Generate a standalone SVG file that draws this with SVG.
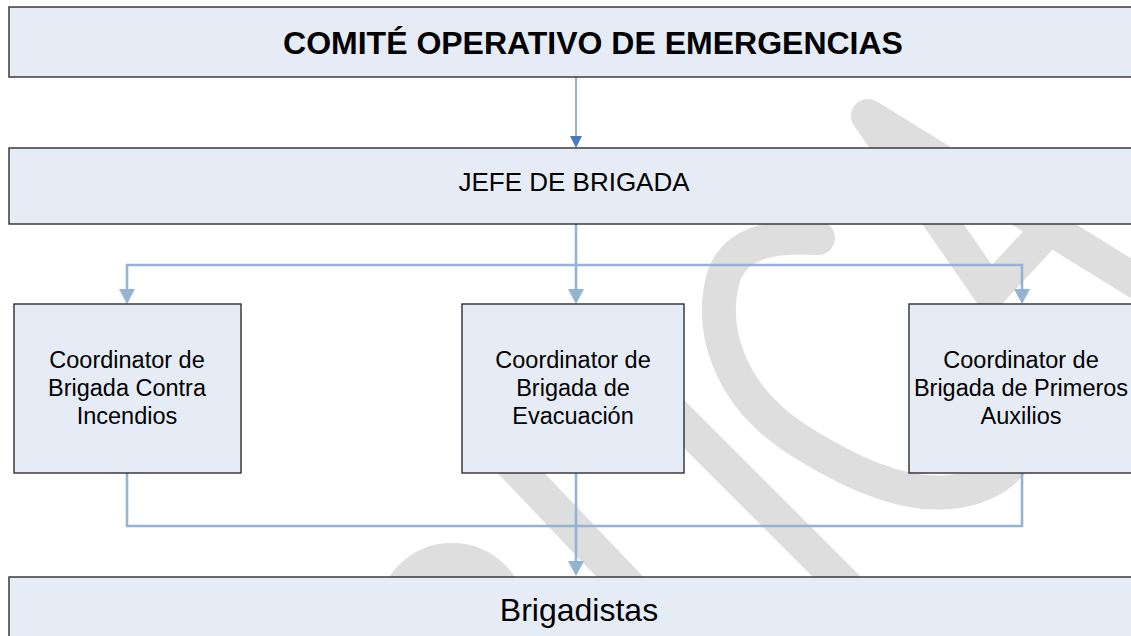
<svg xmlns="http://www.w3.org/2000/svg" width="1131" height="636" viewBox="0 0 1131 636">
<defs>
<style>
.box{fill:#e6ecf6;stroke:#2e2e2e;stroke-width:1.4}
.t{font-family:"Liberation Sans",Arial,sans-serif;fill:#000;text-anchor:middle}
.wm{fill:none;stroke:#dedede;stroke-width:34;stroke-linecap:round;stroke-linejoin:round}
.lc{fill:none;stroke:#95b3d7;stroke-width:2.6}
.dc{fill:none;stroke:#4a78c0;stroke-width:1.2}
</style>
<marker id="al" markerUnits="userSpaceOnUse" markerWidth="15" markerHeight="16" viewBox="0 0 15 16" refX="0" refY="8" orient="auto"><path d="M0,0 L15,8 L0,16 z" fill="#95b3d7"/></marker>
<marker id="ad" markerUnits="userSpaceOnUse" markerWidth="12" markerHeight="12" viewBox="0 0 12 12" refX="0" refY="6" orient="auto"><path d="M0,0 L12,6 L0,12 z" fill="#4a78c0"/></marker>
</defs>
<rect width="1131" height="636" fill="#fff"/>
<g id="watermark">
<path class="wm" d="M990,292 L868,116 L1150,290"/>
<path class="wm" d="M990,292 L1055,222"/>
<path class="wm" d="M818,238 C775,236 738,240 724,275 C708,330 730,395 795,438 C845,470 900,497 950,492 C990,488 1010,470 1030,440"/>
<path class="wm" d="M480,430 L680,640" stroke-width="31"/>
<path class="wm" d="M640,380 L900,640" stroke-width="31"/>
<circle class="wm" cx="452" cy="618" r="58"/>
</g>
<g id="connectors">
<path class="dc" d="M576,77 V136" marker-end="url(#ad)"/>
<path class="lc" d="M576,224 V289" marker-end="url(#al)"/>
<path class="lc" d="M576,265 H127 V289" marker-end="url(#al)"/>
<path class="lc" d="M576,265 H1022 V289" marker-end="url(#al)"/>
<path class="lc" d="M127,473 V526 H1022 V473"/>
<path class="lc" d="M576,473 V561" marker-end="url(#al)"/>
</g>
<g id="comite">
<rect class="box" x="9" y="7" width="1140" height="70"/>
<text class="t" x="593" y="54" font-size="32" font-weight="bold">COMITÉ OPERATIVO DE EMERGENCIAS</text>
</g>
<g id="jefe">
<rect class="box" x="9" y="148" width="1140" height="76"/>
<text class="t" x="574" y="191" font-size="26">JEFE DE BRIGADA</text>
</g>
<g id="coord-incendios">
<rect class="box" x="14" y="304" width="227" height="169"/>
<text class="t" font-size="23.5"><tspan x="127" y="368">Coordinator de</tspan><tspan x="127" y="396">Brigada Contra</tspan><tspan x="127" y="424">Incendios</tspan></text>
</g>
<g id="coord-evacuacion">
<rect class="box" x="462" y="304" width="222" height="169"/>
<text class="t" font-size="23.5"><tspan x="573" y="368">Coordinator de</tspan><tspan x="573" y="396">Brigada de</tspan><tspan x="573" y="424">Evacuación</tspan></text>
</g>
<g id="coord-auxilios">
<rect class="box" x="909" y="304" width="240" height="169"/>
<text class="t" font-size="23.5"><tspan x="1021" y="368">Coordinator de</tspan><tspan x="1021" y="396">Brigada de Primeros</tspan><tspan x="1021" y="424">Auxilios</tspan></text>
</g>
<g id="brigadistas">
<rect class="box" x="9" y="577" width="1140" height="70"/>
<text class="t" x="579" y="621" font-size="32">Brigadistas</text>
</g>
</svg>
